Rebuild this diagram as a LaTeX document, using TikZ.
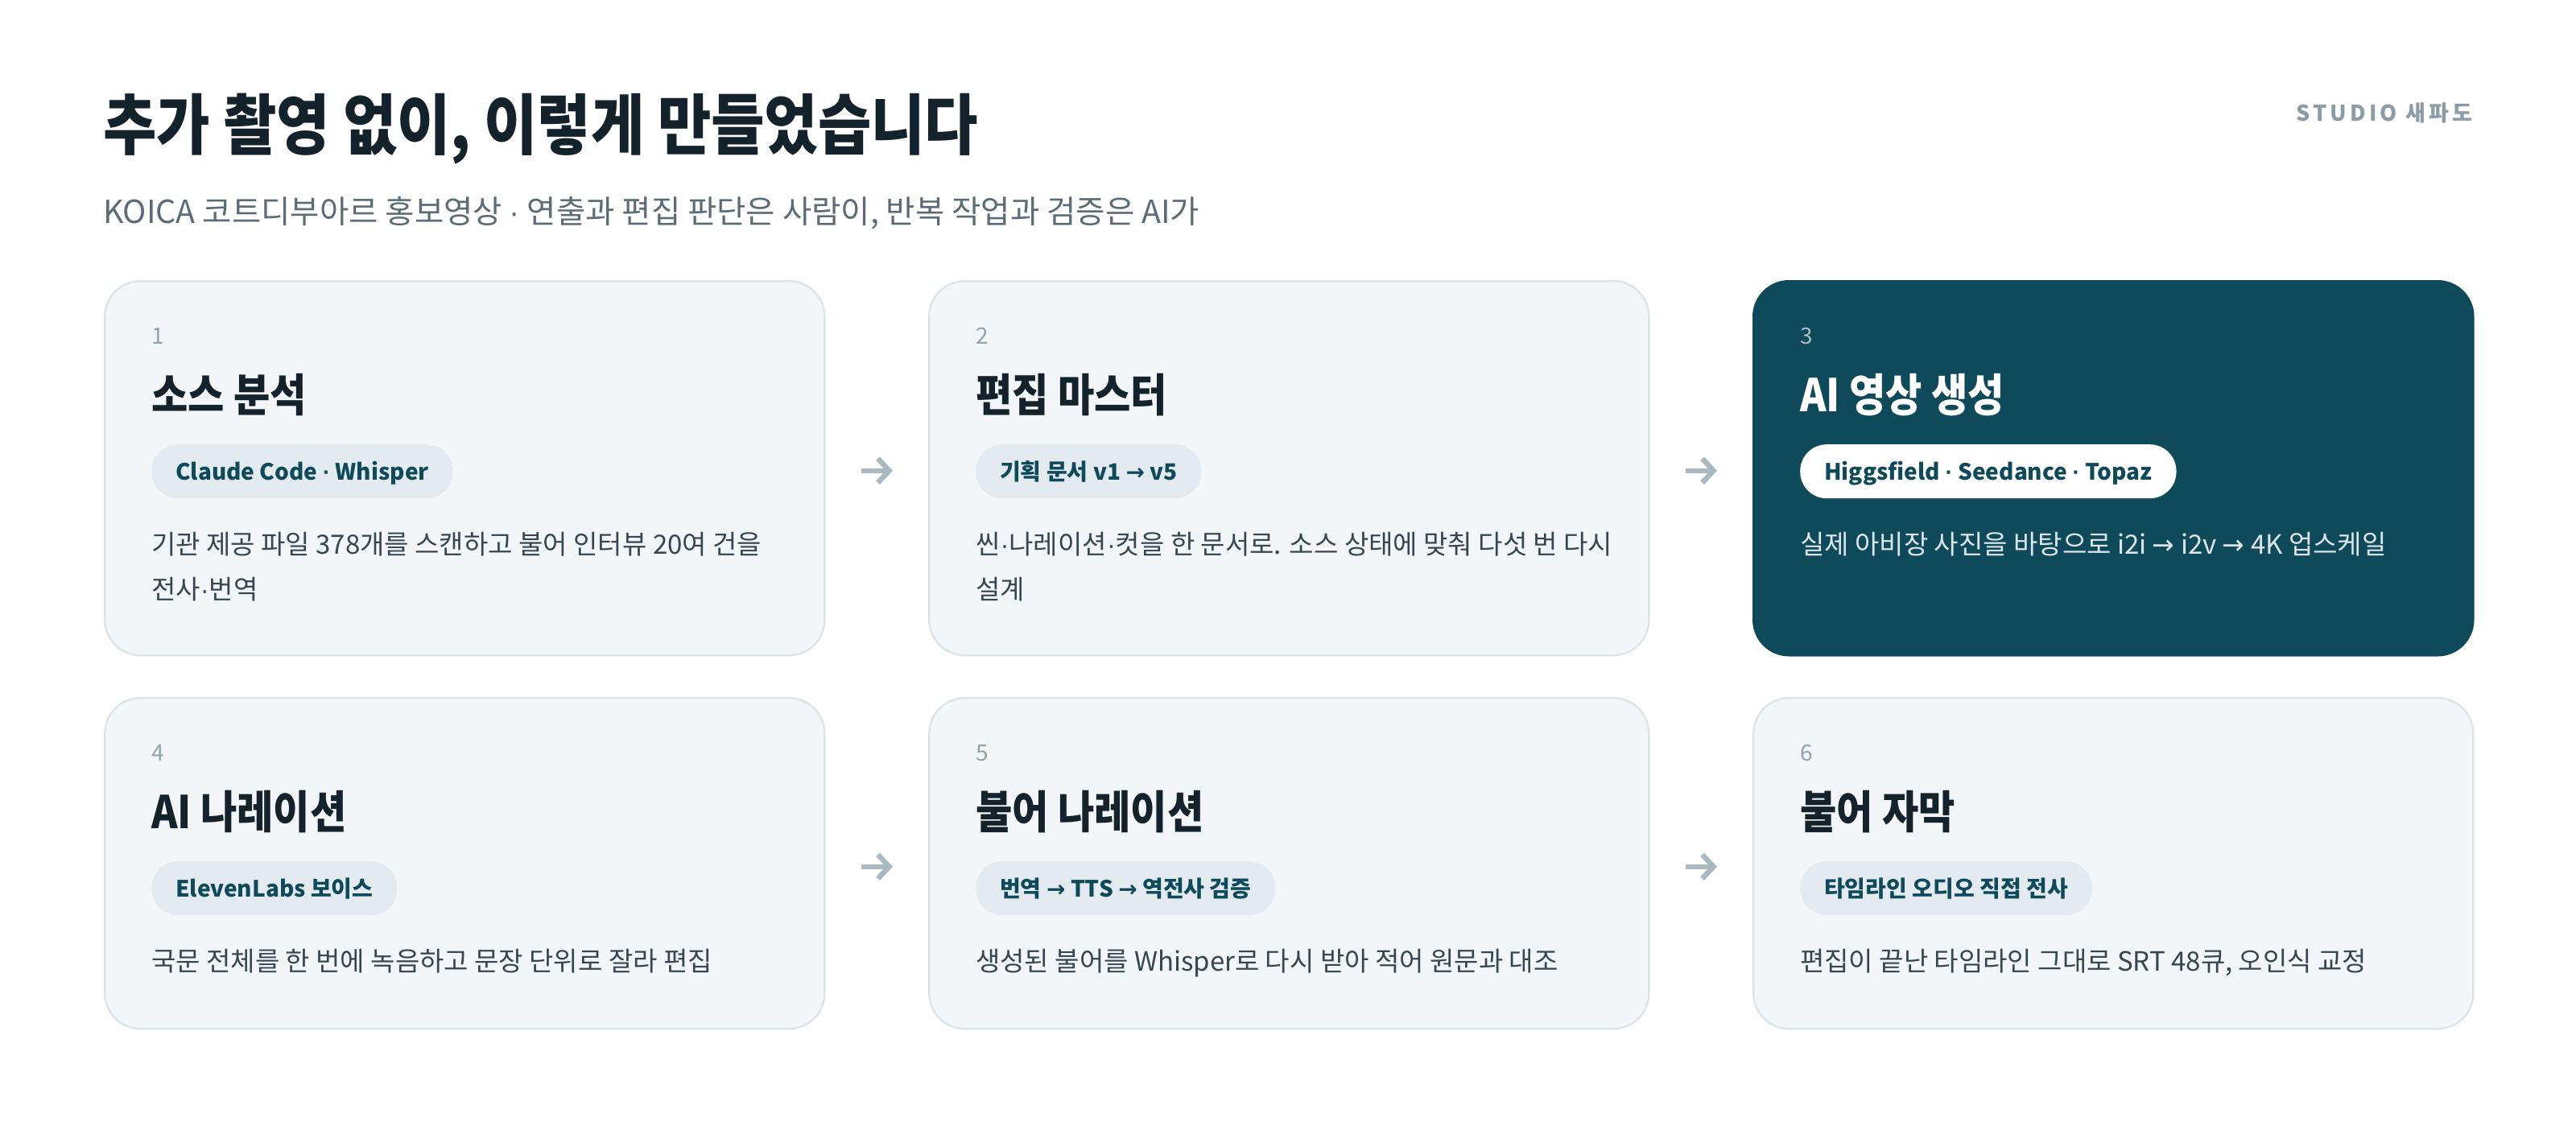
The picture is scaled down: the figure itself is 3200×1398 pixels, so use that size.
\documentclass[tikz,border=0pt]{standalone}
\usepackage{fontspec}
\setmainfont{Noto Sans CJK KR}
\newfontfamily\headfont[FakeStretch=0.88]{Noto Sans CJK KR}
\newfontfamily\trackfont[LetterSpace=15]{Noto Sans CJK KR}
\newfontfamily\symfont{Liberation Sans}
\newfontfamily\arrfont{DejaVu Sans}
\newcommand\mdot{{\symfont ·}}
\newcommand\rarr{{\arrfont →}}
\usetikzlibrary{arrows.meta}

\definecolor{ink}{HTML}{14232B}
\definecolor{subink}{HTML}{5B6C76}
\definecolor{mutedink}{HTML}{8C9CA6}
\definecolor{cardfill}{HTML}{F2F6F9}
\definecolor{cardline}{HTML}{DCE5EA}
\definecolor{pillfill}{HTML}{E3EBF0}
\definecolor{deepteal}{HTML}{0F4A5B}
\definecolor{bodyink}{HTML}{37464F}
\definecolor{numink}{HTML}{93A3AC}
\definecolor{arrowc}{HTML}{AAB8C0}
\definecolor{darknum}{HTML}{A6BDC6}
\definecolor{darkbody}{HTML}{DCE6EA}

\tikzset{
  card/.style={draw=cardline, fill=cardfill, line width=2.5pt, rounded corners=44pt,
    anchor=north west, minimum width=894pt, inner sep=0pt},
  darkcard/.style={card, draw=deepteal, fill=deepteal},
  num/.style={anchor=base west, inner sep=0pt, text=numink, font=\fontsize{28}{28}\selectfont},
  head/.style={anchor=base west, inner sep=0pt, text=ink, font=\headfont\bfseries\fontsize{56}{56}\selectfont},
  pill/.style={anchor=north west, fill=pillfill, text=deepteal, rounded corners=33pt,
    minimum height=67pt, inner xsep=30pt, inner ysep=0pt, text height=25pt, text depth=4pt,
    font=\bfseries\fontsize{28}{28}\selectfont},
  body/.style={anchor=base west, inner sep=0pt, text=bodyink, align=left, font=\fontsize{33}{56}\selectfont},
  flow/.style={draw=arrowc, line width=6.5pt, -{Straight Barb[length=14pt,width=30pt]}}
}

\begin{document}
\begin{tikzpicture}[x=1pt,y=-1pt]
\fill[white] (0,0) rectangle (3200,1398);
% heading
\node[anchor=base west, inner sep=0pt, text=ink, font=\headfont\bfseries\fontsize{82}{82}\selectfont]
  (title) at (128,185) {추가 촬영 없이, 이렇게 만들었습니다};
\node[anchor=base west, inner sep=0pt, text=subink, font=\fontsize{39.5}{40}\selectfont]
  (subtitle) at (128,277) {KOICA 코트디부아르 홍보영상 \mdot{} 연출과 편집 판단은 사람이, 반복 작업과 검증은 AI가};
\node[anchor=base east, inner sep=0pt, text=mutedink, font=\trackfont\bfseries\fontsize{27}{27}\selectfont]
  (studio) at (3071,150) {STUDIO 새파도};

% cards
\node[card, minimum height=465pt] (c1) at (129,348) {};
\node[card, minimum height=465pt] (c2) at (1153,348) {};
\node[darkcard, minimum height=465pt] (c3) at (2177,348) {};
\node[card, minimum height=411pt] (c4) at (129,866) {};
\node[card, minimum height=411pt] (c5) at (1153,866) {};
\node[card, minimum height=411pt] (c6) at (2177,866) {};

% 1 (two lines: base is the last line)
\node[num] (n1) at ([shift={(59,79)}]c1.north west) {1};
\node[head] (h1) at ([shift={(59,163)}]c1.north west) {소스 분석};
\node[pill] (p1) at ([shift={(59,204)}]c1.north west) {Claude Code \mdot{} Whisper};
\node[body] (d1) at ([shift={(59,396)}]c1.north west) {기관 제공 파일 378개를 스캔하고 불어 인터뷰 20여 건을\\전사\mdot 번역};

% 2
\node[num] (n2) at ([shift={(59,79)}]c2.north west) {2};
\node[head] (h2) at ([shift={(59,163)}]c2.north west) {편집 마스터};
\node[pill] (p2) at ([shift={(59,204)}]c2.north west) {기획 문서 v1 \rarr{} v5};
\node[body] (d2) at ([shift={(59,396)}]c2.north west) {씬\mdot 나레이션\mdot 컷을 한 문서로. 소스 상태에 맞춰 다섯 번 다시\\설계};

% 3
\node[num, text=darknum] (n3) at ([shift={(59,79)}]c3.north west) {3};
\node[head, text=white] (h3) at ([shift={(59,163)}]c3.north west) {AI 영상 생성};
\node[pill, fill=white] (p3) at ([shift={(59,204)}]c3.north west) {Higgsfield \mdot{} Seedance \mdot{} Topaz};
\node[body, text=darkbody] (d3) at ([shift={(59,340)}]c3.north west) {실제 아비장 사진을 바탕으로 i2i \rarr{} i2v \rarr{} 4K 업스케일};

% 4
\node[num] (n4) at ([shift={(59,79)}]c4.north west) {4};
\node[head] (h4) at ([shift={(59,163)}]c4.north west) {AI 나레이션};
\node[pill] (p4) at ([shift={(59,204)}]c4.north west) {ElevenLabs 보이스};
\node[body] (d4) at ([shift={(59,340)}]c4.north west) {국문 전체를 한 번에 녹음하고 문장 단위로 잘라 편집};

% 5
\node[num] (n5) at ([shift={(59,79)}]c5.north west) {5};
\node[head] (h5) at ([shift={(59,163)}]c5.north west) {불어 나레이션};
\node[pill] (p5) at ([shift={(59,204)}]c5.north west) {번역 \rarr{} TTS \rarr{} 역전사 검증};
\node[body] (d5) at ([shift={(59,340)}]c5.north west) {생성된 불어를 Whisper로 다시 받아 적어 원문과 대조};

% 6
\node[num] (n6) at ([shift={(59,79)}]c6.north west) {6};
\node[head] (h6) at ([shift={(59,163)}]c6.north west) {불어 자막};
\node[pill] (p6) at ([shift={(59,204)}]c6.north west) {타임라인 오디오 직접 전사};
\node[body] (d6) at ([shift={(59,340)}]c6.north west) {편집이 끝난 타임라인 그대로 SRT 48큐, 오인식 교정};

% arrows
\draw[flow] ([shift={(44,3)}]c1.east) -- ([shift={(-44,3)}]c2.west);
\draw[flow] ([shift={(44,3)}]c2.east) -- ([shift={(-44,3)}]c3.west);
\draw[flow] ([shift={(44,4)}]c4.east) -- ([shift={(-44,4)}]c5.west);
\draw[flow] ([shift={(44,4)}]c5.east) -- ([shift={(-44,4)}]c6.west);
\end{tikzpicture}
\end{document}
